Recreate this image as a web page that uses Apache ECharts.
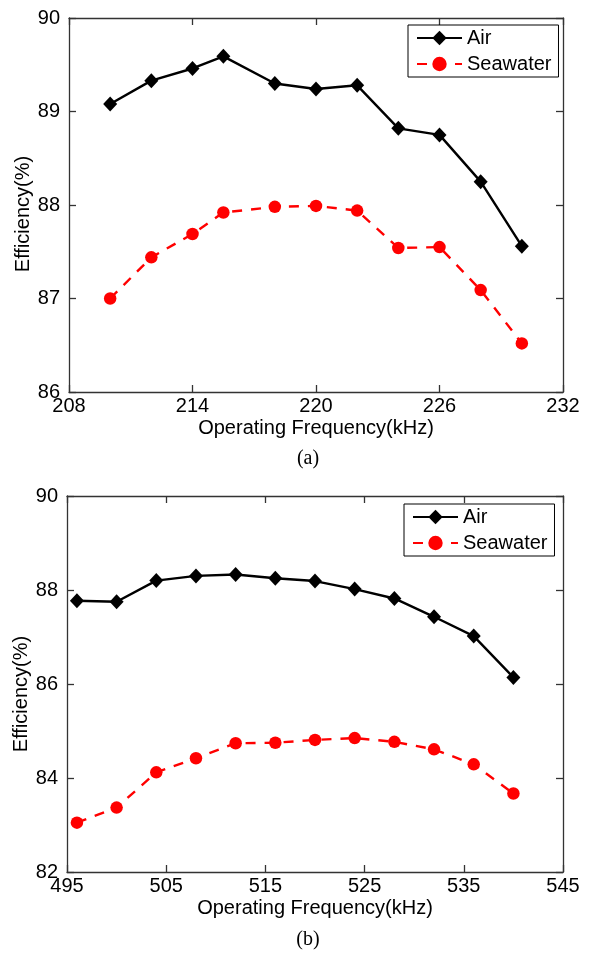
<!DOCTYPE html>
<html>
<head>
<meta charset="utf-8">
<script src="https://cdn.jsdelivr.net/npm/echarts@6/dist/echarts.min.js"></script>
<style>
html,body{margin:0;padding:0;background:#fff;}
#chart{width:591px;height:956px;}
</style>
</head>
<body>
<div id="chart"></div>
<script>
// Panel (a)
const freqA = [210, 212, 214, 215.5, 218, 220, 222, 224, 226, 228, 230];
const airA = [89.08, 89.33, 89.46, 89.59, 89.30, 89.24, 89.28, 88.82, 88.75, 88.25, 87.56];
const seaA = [87.00, 87.44, 87.69, 87.92, 87.98, 87.99, 87.94, 87.54, 87.55, 87.09, 86.52];
const xTicksA = [208, 214, 220, 226, 232];
// Panel (b)
const freqB = [496, 500, 504, 508, 512, 516, 520, 524, 528, 532, 536, 540];
const airB = [87.77, 87.75, 88.20, 88.30, 88.33, 88.25, 88.19, 88.02, 87.82, 87.43, 87.02, 86.14];
const seaB = [83.05, 83.37, 84.12, 84.42, 84.74, 84.75, 84.81, 84.85, 84.77, 84.61, 84.29, 83.67];
const xTicksB = [495, 505, 515, 525, 535, 545];

const FONT = '"Liberation Sans", Arial, sans-serif';
const axisLine = {show: true, lineStyle: {color: '#333', width: 1.3}};
const pair = (xs, ys) => xs.map((x, i) => [x, ys[i]]);

function xAxes(grid, ticks) {
  const min = ticks[0], max = ticks[ticks.length - 1];
  return [
    {type: 'value', gridIndex: grid, position: 'bottom', min, max,
     axisLine, splitLine: {show: false},
     axisTick: {show: true, inside: true, length: 7, customValues: ticks, lineStyle: {color: '#333', width: 1.3}},
     axisLabel: {show: true, customValues: ticks, margin: 4, color: '#000', fontSize: 20, fontFamily: FONT},
     name: 'Operating Frequency(kHz)', nameLocation: 'middle', nameGap: 26,
     nameTextStyle: {color: '#000', fontSize: 20, fontFamily: FONT}},
    {type: 'value', gridIndex: grid, position: 'top', min, max,
     axisLine, splitLine: {show: false},
     axisTick: {show: true, inside: true, length: 7, customValues: ticks, lineStyle: {color: '#333', width: 1.3}},
     axisLabel: {show: false}}
  ];
}
function yAxes(grid, min, max, interval) {
  return [
    {type: 'value', gridIndex: grid, position: 'left', min, max, interval,
     axisLine, splitLine: {show: false},
     axisTick: {show: true, inside: true, length: 7, lineStyle: {color: '#333', width: 1.3}},
     axisLabel: {margin: 9, color: '#000', fontSize: 20, fontFamily: FONT}},
    {type: 'value', gridIndex: grid, position: 'right', min, max, interval,
     axisLine, splitLine: {show: false},
     axisTick: {show: true, inside: true, length: 7, lineStyle: {color: '#333', width: 1.3}},
     axisLabel: {show: false}}
  ];
}
function legend(left, top) {
  return {
    left, top, orient: 'vertical', data: ['Air', 'Seawater'],
    backgroundColor: '#fff', borderColor: '#000', borderWidth: 1, borderRadius: 0,
    padding: [3, 7, 3, 8], itemWidth: 45, itemHeight: 18, itemGap: 6,
    textStyle: {color: '#000', fontSize: 20, fontFamily: FONT}
  };
}
function series(xi, yi, fx, air, sea) {
  return [
    {name: 'Air', type: 'line', xAxisIndex: xi, yAxisIndex: yi, data: pair(fx, air),
     symbol: 'diamond', symbolSize: [14, 15],
     lineStyle: {color: '#000', width: 2.4}, itemStyle: {color: '#000'}},
    {name: 'Seawater', type: 'line', xAxisIndex: xi, yAxisIndex: yi, data: pair(fx, sea),
     symbol: 'circle', symbolSize: 12.5,
     lineStyle: {color: '#ff0000', width: 2.4, type: [10, 9]}, itemStyle: {color: '#ff0000'}}
  ];
}

const chart = echarts.init(document.getElementById('chart'), null, {renderer: 'canvas'});
chart.setOption({
  animation: false,
  backgroundColor: '#fff',
  grid: [
    {left: 69, right: 28, top: 18, height: 374},
    {left: 67, right: 28, top: 496, height: 376}
  ],
  xAxis: [...xAxes(0, xTicksA), ...xAxes(1, xTicksB)],
  yAxis: [...yAxes(0, 86, 90, 1), ...yAxes(1, 82, 90, 2)],
  legend: [legend(408, 25), legend(404, 504)],
  series: [...series(0, 0, freqA, airA, seaA), ...series(2, 2, freqB, airB, seaB)],
  graphic: [
    {type: 'text', x: 23, y: 214, rotation: Math.PI / 2,
     style: {text: 'Efficiency(%)', fill: '#000', font: '20px ' + FONT, textAlign: 'center', textVerticalAlign: 'middle'}},
    {type: 'text', x: 21, y: 694, rotation: Math.PI / 2,
     style: {text: 'Efficiency(%)', fill: '#000', font: '20px ' + FONT, textAlign: 'center', textVerticalAlign: 'middle'}},
    {type: 'text', x: 308, y: 459,
     style: {text: '(a)', fill: '#000', font: '20px "Liberation Serif", "Times New Roman", serif', textAlign: 'center', textVerticalAlign: 'middle'}},
    {type: 'text', x: 308, y: 940,
     style: {text: '(b)', fill: '#000', font: '20px "Liberation Serif", "Times New Roman", serif', textAlign: 'center', textVerticalAlign: 'middle'}}
  ]
});
</script>
</body>
</html>
